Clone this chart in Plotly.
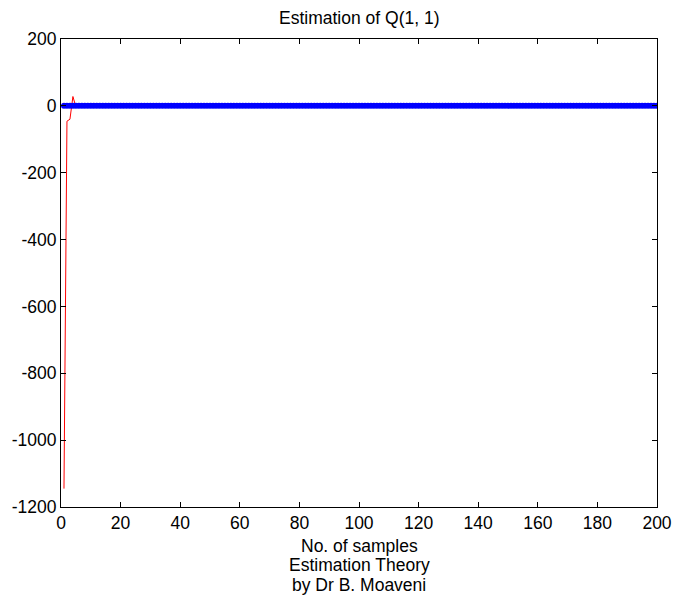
import plotly.graph_objects as go

# Data
samples = list(range(1, 201))
red_head = [-1145, -46, -40, 28, -3, 1, 0, 2, 6, 7, 7, 6, 4, 2, 1, 0, 0, 0, 0, 0]
red_tail = [0.0] * (200 - len(red_head))
estimate = red_head + red_tail
true_value = [0.0] * 200

x_ticks = [0, 20, 40, 60, 80, 100, 120, 140, 160, 180, 200]
y_ticks = [-1200, -1000, -800, -600, -400, -200, 0, 200]

FONT = "Liberation Sans, Arial, sans-serif"
FS = 17.5

fig = go.Figure()
fig.add_trace(go.Scatter(x=samples, y=estimate, mode="lines",
                         line=dict(color="#ff0000", width=1), showlegend=False))
fig.add_trace(go.Scatter(x=samples, y=true_value, mode="lines+markers",
                         line=dict(color="#0000ff", width=2.5),
                         marker=dict(color="#0000ff", size=6, line=dict(width=0)),
                         showlegend=False))

axis_common = dict(showgrid=False, zeroline=False, showline=True, linecolor="black",
                   linewidth=1, mirror="ticks", ticks="inside", ticklen=5,
                   tickcolor="black", automargin=False,
                   tickfont=dict(family=FONT, size=FS, color="black"))

fig.update_xaxes(range=[0, 200], tickvals=x_ticks, ticktext=[str(v) for v in x_ticks],
                 **axis_common)
fig.update_yaxes(range=[-1200, 200], tickvals=y_ticks, ticktext=[str(v) for v in y_ticks],
                 **axis_common)

fig.update_layout(
    width=673, height=596,
    margin=dict(l=61, r=16, t=39, b=89),
    paper_bgcolor="white", plot_bgcolor="white",
    font=dict(family=FONT, size=FS, color="black"),
)

def label(text, py):
    # py: pixel center (from top of page); plot bottom is at 507
    fig.add_annotation(text=text, xref="paper", yref="paper", x=0.5, y=0,
                       xanchor="center", yanchor="middle", yshift=-(py - 507),
                       showarrow=False, font=dict(family=FONT, size=FS, color="black"))

label("No. of samples", 546)
label("Estimation Theory", 565)
label("by Dr B. Moaveni", 585)

fig.add_annotation(text="Estimation of Q(1, 1)", xref="paper", yref="paper", x=0.5, y=1,
                   xanchor="center", yanchor="middle", yshift=39 - 18, showarrow=False,
                   font=dict(family=FONT, size=FS, color="black"))

fig.write_html("out.html", config={"displayModeBar": False},
               post_script="document.body.style.margin='0';document.body.style.padding='0';"
                           "document.documentElement.style.overflow='hidden';")
